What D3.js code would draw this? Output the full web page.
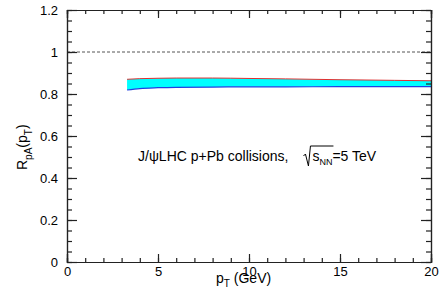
<!DOCTYPE html>
<html>
<head>
<meta charset="utf-8">
<script src="https://cdn.jsdelivr.net/npm/d3@7"></script>
<style>
  body { margin: 0; background: #fff; }
  text { font-family: "Liberation Sans", Arial, sans-serif; fill: #000; white-space: pre; }
</style>
</head>
<body>
<svg id="chart"></svg>
<script>
// band data
const pt = [3.3, 4, 5, 6, 8, 10, 12, 15, 18, 20];
const upper = [0.870, 0.873, 0.875, 0.876, 0.876, 0.874, 0.872, 0.868, 0.865, 0.863];
const lower = [0.819, 0.826, 0.830, 0.832, 0.833, 0.834, 0.834, 0.835, 0.835, 0.835];
const xTicks = [0, 5, 10, 15, 20];
const yTicks = [0, 0.2, 0.4, 0.6, 0.8, 1, 1.2];
const refLine = 1;

const width = 443;
const height = 291;
const margin = { top: 10, right: 12, bottom: 29, left: 67 };
const w = width - margin.left - margin.right;
const h = height - margin.top - margin.bottom;

const x = d3.scaleLinear().domain([0, 20]).range([0, w]);
const y = d3.scaleLinear().domain([0, 1.2]).range([h, 0]);

const svg = d3.select('#chart')
  .attr('width', width)
  .attr('height', height);

const chart = svg.append('g')
  .attr('transform', `translate(${margin.left},${margin.top})`);

const band = pt.map((d, i) => ({ x: d, lo: lower[i], hi: upper[i] }));

// Band
chart.append('path')
  .datum(band)
  .attr('fill', '#00ffff')
  .attr('d', d3.area().x(d => x(d.x)).y0(d => y(d.lo)).y1(d => y(d.hi)).curve(d3.curveMonotoneX));

chart.append('path')
  .datum(band)
  .attr('fill', 'none')
  .attr('stroke', '#e03030')
  .attr('stroke-width', 1)
  .attr('d', d3.line().x(d => x(d.x)).y(d => y(d.hi)).curve(d3.curveMonotoneX));

chart.append('path')
  .datum(band)
  .attr('fill', 'none')
  .attr('stroke', '#2040e0')
  .attr('stroke-width', 1.2)
  .attr('d', d3.line().x(d => x(d.x)).y(d => y(d.lo)).curve(d3.curveMonotoneX));

// Dashed line at 1
chart.append('line')
  .attr('x1', 0).attr('x2', w)
  .attr('y1', y(refLine)).attr('y2', y(refLine))
  .attr('stroke', '#555')
  .attr('stroke-dasharray', '3,2');

// Axes: bottom/left with labels, top/right with ticks only
const xMinor = d3.range(0, 21, 1);
const yMinor = d3.range(0, 1.2001, 0.05);

function styleAxis(g) {
  g.selectAll('.domain').attr('stroke', '#222').attr('stroke-width', 1.2);
  g.selectAll('line').attr('stroke', '#222').attr('stroke-width', 1.2);
  g.selectAll('text').attr('font-size', 13).attr('font-family', '"Liberation Sans", Arial, sans-serif');
}

chart.append('g')
  .attr('transform', `translate(0,${h})`)
  .call(d3.axisBottom(x).tickValues(xMinor).tickSize(-4).tickFormat(''))
  .call(styleAxis);
chart.append('g')
  .attr('transform', `translate(0,${h})`)
  .call(d3.axisBottom(x).tickValues(xTicks).tickSize(-8).tickPadding(5).tickFormat(d3.format('d')))
  .call(styleAxis);

chart.append('g')
  .call(d3.axisTop(x).tickValues(xMinor).tickSize(-4).tickFormat(''))
  .call(styleAxis);
chart.append('g')
  .call(d3.axisTop(x).tickValues(xTicks).tickSize(-8).tickFormat(''))
  .call(styleAxis);

chart.append('g')
  .call(d3.axisLeft(y).tickValues(yMinor).tickSize(-5).tickFormat(''))
  .call(styleAxis);
chart.append('g')
  .call(d3.axisLeft(y).tickValues(yTicks).tickSize(-10).tickPadding(9).tickFormat(d => d3.format('')(d)))
  .call(styleAxis);

chart.append('g')
  .attr('transform', `translate(${w},0)`)
  .call(d3.axisRight(y).tickValues(yMinor).tickSize(-5).tickFormat(''))
  .call(styleAxis);
chart.append('g')
  .attr('transform', `translate(${w},0)`)
  .call(d3.axisRight(y).tickValues(yTicks).tickSize(-10).tickFormat(''))
  .call(styleAxis);

// X label
const xl = svg.append('text')
  .attr('x', 216)
  .attr('y', 283)
  .attr('font-size', 14);
xl.append('tspan').text('p');
xl.append('tspan').attr('font-size', 10).attr('dy', 4).text('T');
xl.append('tspan').attr('dy', -4).text(' (GeV)');

// Y label
const yl = svg.append('text')
  .attr('transform', 'translate(27,170) rotate(-90)')
  .attr('font-size', 14);
yl.append('tspan').text('R');
yl.append('tspan').attr('font-size', 10).attr('dy', 5).text('pA');
yl.append('tspan').attr('dy', -5).text('(p');
yl.append('tspan').attr('font-size', 10).attr('dy', 5).text('T');
yl.append('tspan').attr('dy', -5).text(')');

// Annotation
const note = svg.append('text')
  .attr('x', 138)
  .attr('y', 161)
  .attr('font-size', 14);
note.append('tspan').text('J/\u03C8LHC p+Pb collisions,');
note.append('tspan').attr('dx', 24).text('s');
note.append('tspan').attr('font-size', 9).attr('dy', 4).text('NN');
note.append('tspan').attr('dy', -4).text('=5 TeV');

// sqrt sign drawn from the text position
const sNode = note.selectAll('tspan').nodes()[1];
const sx = sNode.getStartPositionOfChar(0).x;
const nnNode = note.selectAll('tspan').nodes()[2];
const ex = nnNode.getEndPositionOfChar(1).x;
svg.append('path')
  .attr('fill', 'none')
  .attr('stroke', '#000')
  .attr('stroke-width', 1)
  .attr('d', `M${sx - 9},156 L${sx - 7},154 L${sx - 4},166 L${sx - 2},146 L${ex + 1},146`);
</script>
</body>
</html>
